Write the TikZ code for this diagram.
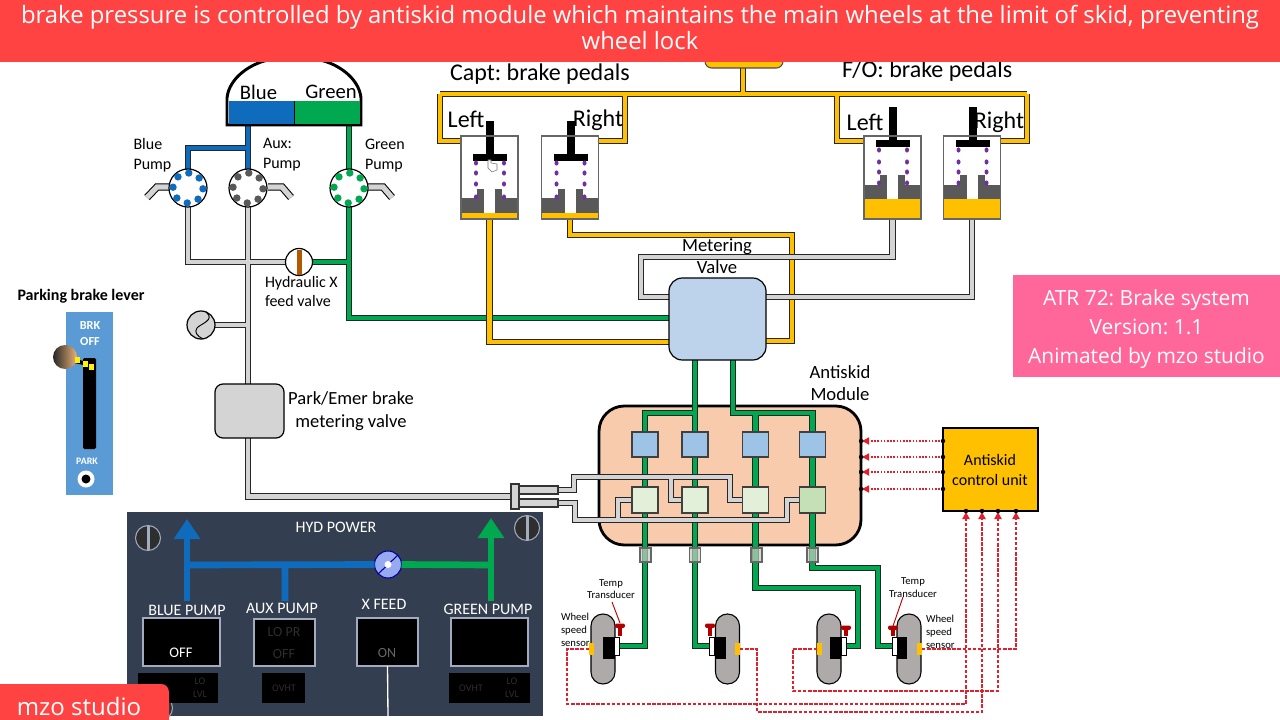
\documentclass[tikz,border=0pt]{standalone}
\usepackage{fontspec}
\setmainfont{Carlito}
\newfontfamily\osans{Open Sans}
\usetikzlibrary{arrows.meta,calc,backgrounds}
\pgfdeclarelayer{pipes}
\pgfsetlayers{pipes,main}
\frenchspacing
\newcommand{\fs}[2]{\fontsize{#1}{#2}\selectfont}
\definecolor{cblue}{HTML}{0F6CBD}
\definecolor{cgreen}{HTML}{00A84F}
\definecolor{cyel}{HTML}{FFC000}
\definecolor{cgray}{HTML}{D4D4D4}
\definecolor{dgray}{HTML}{595959}
\definecolor{cpurple}{HTML}{7030A0}
\definecolor{bannerred}{HTML}{FF4343}
\definecolor{cpink}{HTML}{FF6699}
\definecolor{cpanel}{HTML}{333F50}
\definecolor{cframe}{HTML}{A3ABBF}
\definecolor{cmod}{HTML}{F8CBAD}
\definecolor{cvalve}{HTML}{BDD3EC}
\definecolor{cbox}{HTML}{9DC3E6}
\definecolor{cgrn}{HTML}{E2F0D9}
\definecolor{cgrn2}{HTML}{C5E0B4}
\definecolor{cwheel}{HTML}{AEAAAA}
\definecolor{csig}{HTML}{E0202C}
\definecolor{cdark}{HTML}{2E2E2E}
\definecolor{clever}{HTML}{5B9BD5}
\tikzset{
  sz/.style 2 args={minimum width=#1*0.75pt,minimum height=#2*0.75pt,inner sep=0pt,outer sep=0pt},
  pipe/.style={line width=0.75pt,double=#1,double distance=3.3pt,draw=black!85,line join=miter},
  lbl/.style={inner sep=0pt,outer sep=0pt,text=black},
  sig/.style={draw=csig,line width=0.8pt,dash pattern=on 2.6pt off 1.2pt},
  cmd/.style={draw=csig,line width=1pt,dash pattern=on 1.2pt off 1.2pt,-{Latex[length=6pt,width=6pt]}},
  pumpdisc/.style={circle,draw=black,fill=white,line width=0.9pt,sz={38}{38}},
  boxa/.style={draw=black!75,fill=cbox,line width=0.9pt,sz={26}{25}},
  boxb/.style={draw=black!75,fill=cgrn,line width=0.9pt,sz={26}{26}},
  cpl/.style={draw=black!60,fill=cgrn!70!gray,fill opacity=0.7,line width=0.8pt,sz={11}{14}},
  wheelbody/.style={draw=black,fill=cwheel,line width=0.8pt,rounded corners=8.9pt,sz={24}{70}},
  sensor/.style={fill=cyel,sz={5}{12}},
  wvalve/.style={draw=black,fill=white,line width=0.6pt,sz={5}{18}},
  pedalbody/.style={draw=black!60,fill=white,line width=0.8pt,sz={57}{83}},
  button/.style={draw=cframe,fill=black,line width=2.1pt},
  lamp/.style={fill=black,inner sep=0pt},
  dim/.style={inner sep=0pt,text=#1,font=\fs{10.5}{12}},
  paneltxt/.style={inner sep=0pt,text=white,font=\fs{12}{13}},
  indic/.style={circle,draw=cframe,fill=cdark,line width=0.8pt,sz={25}{25}}
}
% one metering cylinder: frame, pushrod, spring and base, with the piston at a given height
\newcommand{\pedalparts}[7]{%
  % #1 left edge, #2 rod top, #3 bar top, #4 tower top, #5 base top, #6 fluid top, #7 spring rows
  \fill[black] (#1+25,#2) rectangle (#1+33,#3+3);
  \fill[black] (#1+12,#3) rectangle (#1+46,#3+7);
  \fill[dgray] (#1+16,#4) rectangle (#1+23,#5);
  \fill[dgray] (#1+34,#4) rectangle (#1+41,#5);
  \fill[dgray] (#1,#5) rectangle (#1+23,#6);
  \fill[dgray] (#1+34,#5) rectangle (#1+57,#6);
  \foreach \dy in {#7}{
    \fill[cpurple] (#1+15,\dy) circle[x radius=2,y radius=2.6];
    \fill[cpurple] (#1+43,\dy) circle[x radius=2,y radius=2.6];
  }
  \fill[cyel] (#1,#6) rectangle (#1+57,219);
  \draw[black!60,line width=0.8pt] (#1,136) rectangle (#1+57,219);
}
\newcommand{\pumpdots}[2]{%
  \foreach \a in {0,45,...,315} \fill[#2] (#1) ++(\a+3:15) circle[radius=3.7];
}
\begin{document}
\begin{tikzpicture}[x=0.75pt,y=-0.75pt]
\useasboundingbox (0,0) rectangle (1280,720);
\begin{pgfonlayer}{pipes}
  \fill[white] (0,0) rectangle (1280,720);
  % antiskid module body, under its internal lines
  \node[draw=black,fill=cmod,line width=2.1pt,rounded corners=19pt,sz={262}{139}] (module) at (730,475.5) {};
\end{pgfonlayer}

% reservoir
\draw[black,fill=white,line width=2.2pt,line join=miter] (227,125) -- (227,98) .. controls (229,78) and (250,64) .. (268,60) -- (320,60) .. controls (338,64) and (359,78) .. (361,98) -- (361,125) -- cycle;
\fill[cblue] (228.5,101) rectangle (294,124);
\fill[cgreen] (295,101) rectangle (360,124);
\draw[black,line width=1pt] (294.5,101) -- (294.5,125);
\draw[black,line width=2.2pt,line join=miter] (227,98) -- (227,125) -- (361,125) -- (361,98);
\node[lbl,font=\fs{15.5}{16}] (tankblue) at (258.5,92) {Blue};
\node[lbl,font=\fs{15.5}{16}] (tankgreen) at (331,92) {Green};
\coordinate (resblue) at (248,125);
\coordinate (resgreen) at (349,125);

% pumps and their drive shafts
\foreach \p/\q/\r in {169/157/147,268/282/291,368/383/392}{
  \draw[black,line width=5.6pt,line join=miter] (\p,187) -- (\q,187) -- (\r,197.5);
  \draw[cgray,line width=4pt,line join=miter] (\p,187) -- (\q,187) -- (\r,197.5);
}
\node[pumpdisc] (bluepump) at (188,188) {};
\node[pumpdisc] (auxpump) at (248,188) {};
\node[pumpdisc] (greenpump) at (349,188) {};
\pumpdots{bluepump.center}{cblue}
\pumpdots{auxpump.center}{dgray}
\pumpdots{greenpump.center}{cgreen}
\node[lbl,align=left,anchor=west,font=\fs{12}{15}] (bluepumplbl) at (133.5,155) {Blue\\Pump};
\node[lbl,align=left,anchor=west,font=\fs{12}{15}] (auxpumplbl) at (263,155) {Aux:\\Pump};
\node[lbl,align=left,anchor=west,font=\fs{12}{15}] (greenpumplbl) at (365,156) {Green\\Pump};

% crossfeed valve
\node[circle,draw=black,fill=white,line width=0.9pt,sz={27}{27}] (xvalve) at (299,262) {};
\fill[orange!70!black] (296.5,249.5) rectangle (301.5,274.5);
\node[lbl,align=left,anchor=west,font=\fs{12}{14.3}] (xvalvelbl) at (265,291.5) {Hydraulic X\\feed valve};

% accumulator gauge
\node[circle,draw=black,fill=cgray,line width=0.9pt,sz={28}{28}] (gauge) at (201,325) {};
\draw[black,line width=0.7pt] (206,312) .. controls (216,320) and (200,324) .. (197,328) .. controls (194,332) and (197,336) .. (203,339);

% park and emergency valve
\node[draw=black,fill=cgray,line width=0.9pt,rounded corners=6pt,sz={69}{54}] (parkvalve) at (249.5,411) {};
\node[lbl,align=center,font=\fs{13.9}{17}] (parklbl) at (351,411) {Park/Emer brake\\metering valve};

% header and pedal cylinders
\node[draw=black!70,fill=cyel,line width=0.8pt,rounded corners=5pt,sz={78}{20}] (header) at (744,58) {};
\node[lbl,anchor=west,font=\fs{18}{18}] (captlbl) at (450,74) {Capt: brake pedals};
\node[lbl,anchor=west,font=\fs{18}{18}] (folbl) at (842,71) {F/O: brake pedals};
\node[pedalbody] (capl) at (489.5,177.5) {};
\node[pedalbody] (capr) at (570,177.5) {};
\node[pedalbody] (fol) at (892.5,177.5) {};
\node[pedalbody] (for) at (972,177.5) {};
\pedalparts{461}{121}{154}{189}{198}{213}{163,173,184,197}
\pedalparts{541.5}{121}{154}{189}{198}{213}{163,173,184,197}
\pedalparts{864}{107}{140}{175}{185}{199}{150,162,172,183}
\pedalparts{943.5}{107}{140}{175}{185}{199}{150,162,172,183}
\node[lbl,font=\fs{18}{18}] (lbll1) at (466,119) {Left};
\node[lbl,font=\fs{18}{18}] (lblr1) at (598,120) {Right};
\node[lbl,font=\fs{18}{18}] (lbll2) at (865,122) {Left};
\node[lbl,font=\fs{18}{18}] (lblr2) at (999,122) {Right};
% pointer resting on the left cylinder
\draw[black!55,fill=white,line width=0.4pt] (488,160) -- (491,160) -- (491,163) -- (497,164) -- (497,170) -- (492,172) -- (488,168) -- cycle;

% metering valve
\node[draw=black,fill=cvalve,line width=0.9pt,rounded corners=10pt,sz={97}{82}] (meter) at (717.5,319) {};
\node[lbl,align=center,font=\fs{14}{17}] (meterlbl) at (717,256) {Metering\\Valve};

% antiskid module contents
\node[lbl,align=center,font=\fs{14}{16.5}] (modlbl) at (840,383) {Antiskid\\Module};
\node[boxa] (b1) at (645,444.5) {};
\node[boxa] (b2) at (695,444.5) {};
\node[boxa] (b3) at (755.5,444.5) {};
\node[boxa] (b4) at (812.5,444.5) {};
\node[boxb] (g1) at (645,500) {};
\node[boxb] (g2) at (695,500) {};
\node[boxb] (g3) at (755.5,500) {};
\node[boxb,fill=cgrn2] (g4) at (812.5,500) {};
\node[cpl] (c1) at (645.5,555) {};
\node[cpl] (c2) at (695,555) {};
\node[cpl] (c3) at (756.5,555) {};
\node[cpl] (c4) at (812.5,555) {};

% brake line end fitting
\node[draw=black!80,fill=cgray,line width=0.8pt,sz={39}{8}] (rodA) at (538.5,490) {};
\node[draw=black!80,fill=cgray,line width=0.8pt,sz={39}{8}] (rodB) at (538.5,503) {};
\node[draw=black!80,fill=cgray,line width=0.8pt,sz={8}{25}] (collar) at (515,496.5) {};

% wheels
\node[wheelbody] (w1) at (603,649) {};
\node[wheelbody] (w2) at (727.5,649) {};
\node[wheelbody] (w3) at (829,649) {};
\node[wheelbody] (w4) at (909,649) {};
\fill[black] (603,637) rectangle (615,659);
\fill[black] (715,637) rectangle (726,659);
\fill[black] (830,637) rectangle (841,659);
\fill[black] (897,637) rectangle (907,659);
\node[wvalve] (w1v) at (617,646) {};
\node[wvalve] (w2v) at (712,646) {};
\node[wvalve] (w3v) at (843.5,646) {};
\node[wvalve] (w4v) at (894.5,646) {};
\node[sensor] (s1) at (591.5,649) {};
\node[sensor] (s2) at (737.5,649) {};
\node[sensor] (s3) at (819.5,649) {};
\node[sensor] (s4) at (919.5,649) {};
% temperature transducers
\foreach \tx/\ty in {620/626,710/626,846/628,893/628}{
  \fill[red!70!black] (\tx-1.8,\ty) rectangle (\tx+1.8,636);
  \fill[red!70!black,rounded corners=1.5pt] (\tx-5,\ty-2.5) rectangle (\tx+5,\ty+2);
}
\node[lbl,align=center,font=\fs{8}{9.5}] (temp1) at (611,589) {Temp\\Transducer};
\node[lbl,align=center,font=\fs{8}{9.5}] (temp2) at (913,587.5) {Temp\\Transducer};
\node[lbl,align=left,anchor=west,font=\fs{8}{9.6}] (spd1) at (561,630) {Wheel\\speed\\sensor};
\node[lbl,align=left,anchor=west,font=\fs{8}{9.6}] (spd2) at (926,632) {Wheel\\speed\\sensor};
\coordinate (tmp1a) at (612,602);
\coordinate (tmp1b) at (620,623);
\coordinate (tmp2a) at (903,597);
\coordinate (tmp2b) at (893,626);
\draw[red!75!black,line width=0.7pt] (tmp1a) -- (tmp1b);
\draw[red!75!black,line width=0.7pt] (tmp2a) -- (tmp2b);

% control unit
\node[draw=black,fill=cyel,line width=0.9pt,sz={95}{83}] (ctrl) at (990.5,469.5) {};
\node[lbl,align=center,font=\fs{12}{15}] (ctrllbl) at (990,469.5) {Antiskid\\control unit};

% pipework
\coordinate (jblue) at (248,148);
\coordinate (jgreen) at (349,262);
\coordinate (mvgreen) at (669,318);
\coordinate (mvyelL) at (669,342);
\coordinate (mvyelR) at (766,341);
\coordinate (mvgrayL) at (669,297);
\coordinate (mvgrayR) at (766,297);
\coordinate (mvL) at (695,360);
\coordinate (mvR) at (733,360);
\coordinate (jL) at (695,413);
\coordinate (jR) at (733,413);
\coordinate (tap3) at (755.5,413);
\coordinate (hdrout) at (743,68);
\coordinate (hdrbus) at (743,94);
\coordinate (busA) at (440,94);
\coordinate (busB) at (625,94);
\coordinate (busC) at (837,94);
\coordinate (busD) at (1027,94);
\coordinate (cap1in) at (461,141);
\coordinate (cap2in) at (598,141);
\coordinate (fo1in) at (864,141);
\coordinate (fo2in) at (1001,141);
\coordinate (capRbend) at (792,235);
\coordinate (foLbend) at (641,257);
\coordinate (rA1) at (574,477);
\coordinate (rA2) at (730,500);
\coordinate (rA3) at (671,477);
\coordinate (rB1) at (575,520);
\coordinate (rB2) at (787,500);
\coordinate (rB3) at (618,520);
\coordinate (t3) at (858,588);
\coordinate (t4) at (878,568);

\begin{pgfonlayer}{pipes}
  \draw[pipe=cgreen] (resgreen) -- (greenpump.north)
    (greenpump.south) -- (jgreen) (xvalve.east) -- (jgreen) (jgreen) |- (mvgreen)
    (mvL) -- (b2.north) (jL) -| (b1.north)
    (mvR) |- (jR) -| (b4.north) (tap3) -- (b3.north)
    (b1.south) -- (g1.north) (b2.south) -- (g2.north) (b3.south) -- (g3.north) (b4.south) -- (g4.north)
    (g1.south) |- (w1v.east) (g2.south) |- (w2v.west)
    (g3.south) |- (t3) |- (w3v.east) (g4.south) |- (t4) |- (w4v.west);
  \draw[pipe=cblue] (resblue) -- (auxpump.north) (jblue) -| (bluepump.north);
  \draw[pipe=cyel] (hdrout) -- (hdrbus) (busA) -- (busD)
    (busA) |- (cap1in) (busB) |- (cap2in) (busC) |- (fo1in) (busD) |- (fo2in)
    (capl.south) |- (mvyelL) (capr.south) |- (capRbend) |- (mvyelR);
  \draw[pipe=cgray] (fol.south) |- (foLbend) |- (mvgrayL) (for.south) |- (mvgrayR)
    (bluepump.south) |- (xvalve.west)
    (auxpump.south) -- (parkvalve.north -| auxpump.south) (gauge.east) -- (auxpump.south |- gauge.east)
    (parkvalve.south -| auxpump.south) |- (collar.west)
    (rodA.east) -| (rA1) -| (rA2) -- (g3.west) (rA3) |- (g2.west)
    (rodB.east) -| (rB1) -| (rB2) -- (g4.west) (rB3) |- (g1.west);
\end{pgfonlayer}

% wheel sensor wiring and antiskid command lines
\coordinate (p1) at (966,511);
\coordinate (p2) at (982,511);
\coordinate (p3) at (998,511);
\coordinate (p4) at (1016,511);
\coordinate (r1) at (567,704);
\coordinate (r2) at (757,712);
\coordinate (r3) at (793,691);
\draw[sig,-{Latex[length=6pt,width=6pt]}] (s1.west) -| (r1) -| (p1);
\draw[sig,-{Latex[length=6pt,width=6pt]}] (s2.east) -| (r2) -| (p2);
\draw[sig,-{Latex[length=6pt,width=6pt]}] (s3.west) -| (r3) -| (p3);
\draw[sig,-{Latex[length=6pt,width=6pt]}] (s4.east) -| (p4);
\foreach \n/\yy in {1/441,2/457,3/472,4/489}{
  \coordinate (ma\n) at (861,\yy);
  \coordinate (ca\n) at (943,\yy);
  \draw[cmd] (ca\n) -- (ma\n);
  \fill[black] (ma\n) circle[radius=2.2];
  \fill[black] (ca\n) circle[radius=2.2];
}
\foreach \n in {1,2,3,4} \fill[black] (p\n) circle[radius=2.2];

% parking brake lever
\node[lbl,font=\bfseries\fs{12}{12}] (parklever) at (81,296) {Parking brake lever};
\node[fill=clever,sz={47}{183}] (leverpanel) at (89.5,403.5) {};
\node[lbl,text=white,align=center,font=\bfseries\fs{9.2}{12}] (brkoff) at (90,334) {BRK\\OFF};
\node[fill=black,rounded corners=1pt,sz={13}{91}] (leverslot) at (89.5,403.5) {};
\draw[black,line width=3pt] (70,360) -- (88,364);
\node[lbl,text=white,font=\bfseries\fs{7.4}{9}] (parktxt) at (87,461) {PARK};
\node[circle,fill=white,sz={17}{17}] (parkring) at (86,479) {};
\node[circle,fill=black,sz={9}{9}] (parkhole) at (86,479) {};
\node[circle,left color=black!85,right color=brown!50!orange!60!white,sz={24}{24}] (leverknob) at (65,357) {};
\foreach \sx/\sy in {77/360,85/364,91.5/367}
  \fill[yellow] (\sx-2.5,\sy-3) rectangle (\sx+2.5,\sy+3);

% hydraulic power panel
\node[fill=cpanel,sz={416}{204}] (panel) at (335,614) {};
\node[paneltxt] (hydtitle) at (336,527) {HYD POWER};
\node[circle,draw=blue!60!black,fill=cvalve!80!blue,line width=0.8pt,sz={27}{27}] (xv2) at (388,564.5) {};
\coordinate (hbl) at (187,565);
\coordinate (hbltop) at (187,519);
\coordinate (hblbot) at (187,601);
\coordinate (haux) at (285,565);
\coordinate (hauxbot) at (285,601);
\coordinate (hgr) at (491,565);
\coordinate (hgrtop) at (491,518);
\coordinate (hgrbot) at (491,601);
\draw[cblue,line width=5pt] (xv2.west) -- (hbl) (haux) -- (hauxbot);
\draw[cblue,line width=5pt,-{Triangle[length=15pt,width=19pt]}] (hblbot) -- (hbltop);
\draw[cgreen,line width=5pt] (xv2.east) -- (hgr);
\draw[cgreen,line width=5pt,-{Triangle[length=15pt,width=19pt]}] (hgrbot) -- (hgrtop);
\draw[blue!60!black,line width=0.8pt] (378,574) -- (398,555);
\node[circle,fill=white,sz={7}{7}] (xv2dot) at (388,564.5) {};
\foreach \nm/\ix/\iy in {ind1/148/538,ind2/527/528,ind3/160/708}{
  \node[indic] (\nm) at (\ix,\iy) {};
  \fill[cframe] (\ix-1.5,\iy-12) rectangle (\ix+1.5,\iy+12);
}
\node[paneltxt] (t1) at (187,610) {BLUE PUMP};
\node[paneltxt] (t2) at (282,608) {AUX PUMP};
\node[paneltxt] (t3txt) at (384,604.5) {X FEED};
\node[paneltxt] (t4txt) at (488,609) {GREEN PUMP};
\node[button,sz={77}{48}] (pb1) at (181.5,642) {};
\node[button,sz={61}{47}] (pb2) at (284.5,642.5) {};
\node[button,sz={61}{48}] (pb3) at (387.5,642) {};
\node[button,sz={77}{48}] (pb4) at (489.5,642) {};
\node[lamp,sz={80}{30}] (l1) at (178,688) {};
\node[lamp,sz={43}{30}] (l2) at (283.5,688) {};
\node[lamp,sz={81}{30}] (l4) at (489.5,688) {};
\node[paneltxt,font=\fs{11}{13}] (offblue) at (181,653) {OFF};
\node[dim=cdark] (lopr) at (284,632) {LO PR};
\node[dim=cdark] (offaux) at (284,654) {OFF};
\node[dim=black!60] (onx) at (387,653) {ON};
\node[dim=cdark,font=\fs{7.6}{10}] (o1) at (155,688) {OVHT};
\node[dim=cdark,font=\fs{7.6}{10},align=center] (lo1) at (200,688) {LO\\LVL};
\node[dim=cdark,font=\fs{7.6}{10}] (o2) at (284,688) {OVHT};
\node[dim=cdark,font=\fs{7.6}{10}] (o4) at (471,688) {OVHT};
\node[dim=cdark,font=\fs{7.6}{10},align=center] (lo4) at (512,688) {LO\\LVL};
\coordinate (xfeedend) at (388,716);
\draw[white,line width=1pt] (pb3.south) -- (xfeedend);

% caption blocks
\fill[bannerred] (0,0) rectangle (1280,62);
\node[inner sep=0pt,text=white,align=center,font=\osans\fs{17.9}{20.2}] (caption) at (640,27.5) {brake pressure is controlled by antiskid module which maintains the main wheels at the limit of skid, preventing\\wheel lock};
\node[fill=cpink,sz={267}{102}] (titlebox) at (1146.5,326) {};
\node[inner sep=0pt,text=white,align=center,font=\osans\fs{15.7}{21.7}] (titletxt) at (1146.5,329) {ATR 72: Brake system\\Version: 1.1\\Animated by mzo studio};
\fill[bannerred,rounded corners=6pt] (-10,684) rectangle (169,730);
\node[inner sep=0pt,text=white,font=\osans\fs{18}{18}] (brand) at (79,706) {mzo studio};
\end{tikzpicture}
\end{document}
